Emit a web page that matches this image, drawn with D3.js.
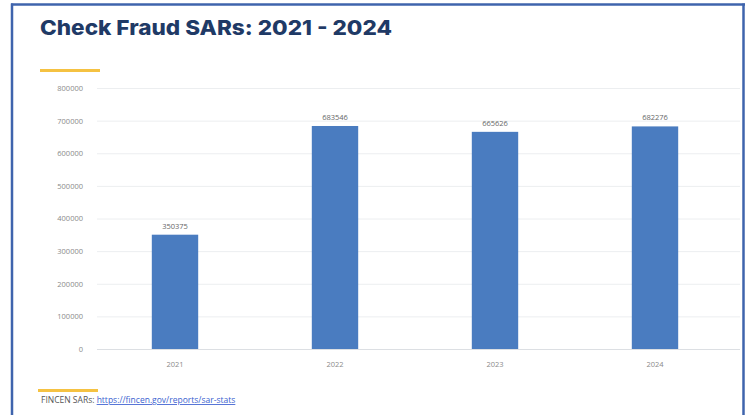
<!DOCTYPE html>
<html><head><meta charset="utf-8">
<script src="https://cdn.jsdelivr.net/npm/d3@7"></script>
<style>body{margin:0;background:#fff}svg{display:block}</style>
</head><body>
<svg id="c" width="752" height="415"></svg>
<script>
const years = ["2021","2022","2023","2024"];
const sars = [350375, 683546, 665626, 682276];
const yTicks = [0,100000,200000,300000,400000,500000,600000,700000,800000];
const title = "Check Fraud SARs: 2021 - 2024";
const sourceLabel = "FINCEN SARs:";
const sourceUrl = "https://fincen.gov/reports/sar-stats";

const svg = d3.select("#c");
svg.append("rect").attr("x",0).attr("y",0).attr("width",752).attr("height",415).attr("fill","#fff");
svg.append("line").attr("x1",11).attr("x2",745).attr("y1",4.5).attr("y2",4.5).attr("stroke","#3f64ad").attr("stroke-width",2.5);
svg.append("line").attr("x1",12).attr("x2",12).attr("y1",3.5).attr("y2",415).attr("stroke","#3f64ad").attr("stroke-width",2.5);
svg.append("line").attr("x1",743.5).attr("x2",743.5).attr("y1",3.5).attr("y2",415).attr("stroke","#3f64ad").attr("stroke-width",2.5);

svg.append("text").attr("x",40).attr("y",35).text(title)
  .attr("font-family","Inter, 'Open Sans', sans-serif").attr("font-weight",800)
  .attr("font-size",20.5).attr("fill","#1f3a66").attr("textLength",352).attr("lengthAdjust","spacingAndGlyphs");

svg.append("line").attr("x1",40).attr("x2",100).attr("y1",70.5).attr("y2",70.5).attr("stroke","#f5c242").attr("stroke-width",3);
svg.append("line").attr("x1",38).attr("x2",98).attr("y1",390.5).attr("y2",390.5).attr("stroke","#f5c242").attr("stroke-width",3);

const y = d3.scaleLinear().domain([0,800000]).range([349,88]);
const x = d3.scaleBand().domain(years).range([95,735]).paddingInner(0.71).paddingOuter(0.355);

const ax = svg.append("g").attr("transform","translate(97,0)")
  .call(d3.axisLeft(y).tickValues(yTicks).tickSize(-643).tickPadding(14).tickFormat(d3.format("d")));
ax.select(".domain").remove();
ax.selectAll(".tick line").attr("stroke","#eceef0").attr("stroke-width",1);
ax.selectAll(".tick text").attr("fill","#8a8a8a").attr("font-family","'Open Sans', sans-serif").attr("font-size",7.5);

svg.append("line").attr("x1",97).attr("x2",740).attr("y1",349.5).attr("y2",349.5).attr("stroke","#dcdfe3");

svg.selectAll("rect.bar").data(sars).join("rect").attr("class","bar")
  .attr("x",(d,i)=>x(years[i])).attr("width",x.bandwidth())
  .attr("y",d=>y(d)).attr("height",d=>y(0)-y(d)).attr("fill","#4a7cc0");

svg.selectAll("text.val").data(sars).join("text").attr("class","val")
  .attr("x",(d,i)=>x(years[i])+x.bandwidth()/2).attr("y",d=>y(d)-6)
  .attr("text-anchor","middle").attr("font-family","'Open Sans', sans-serif").attr("font-size",7.5)
  .attr("fill","#666").text(d=>d);

const xa = svg.append("g").attr("transform","translate(0,349)")
  .call(d3.axisBottom(x).tickSize(0).tickPadding(13));
xa.select(".domain").remove();
xa.selectAll(".tick text").attr("fill","#8a8a8a").attr("font-family","'Open Sans', sans-serif").attr("font-size",7.5);

const src = svg.append("text").attr("x",41).attr("y",403).attr("font-family","'Open Sans', sans-serif").attr("font-size",8.5);
src.append("tspan").attr("fill","#555").text(sourceLabel+" ");
src.append("tspan").attr("fill","#3b5fd0").attr("text-decoration","underline").text(sourceUrl);
</script>
</body></html>
